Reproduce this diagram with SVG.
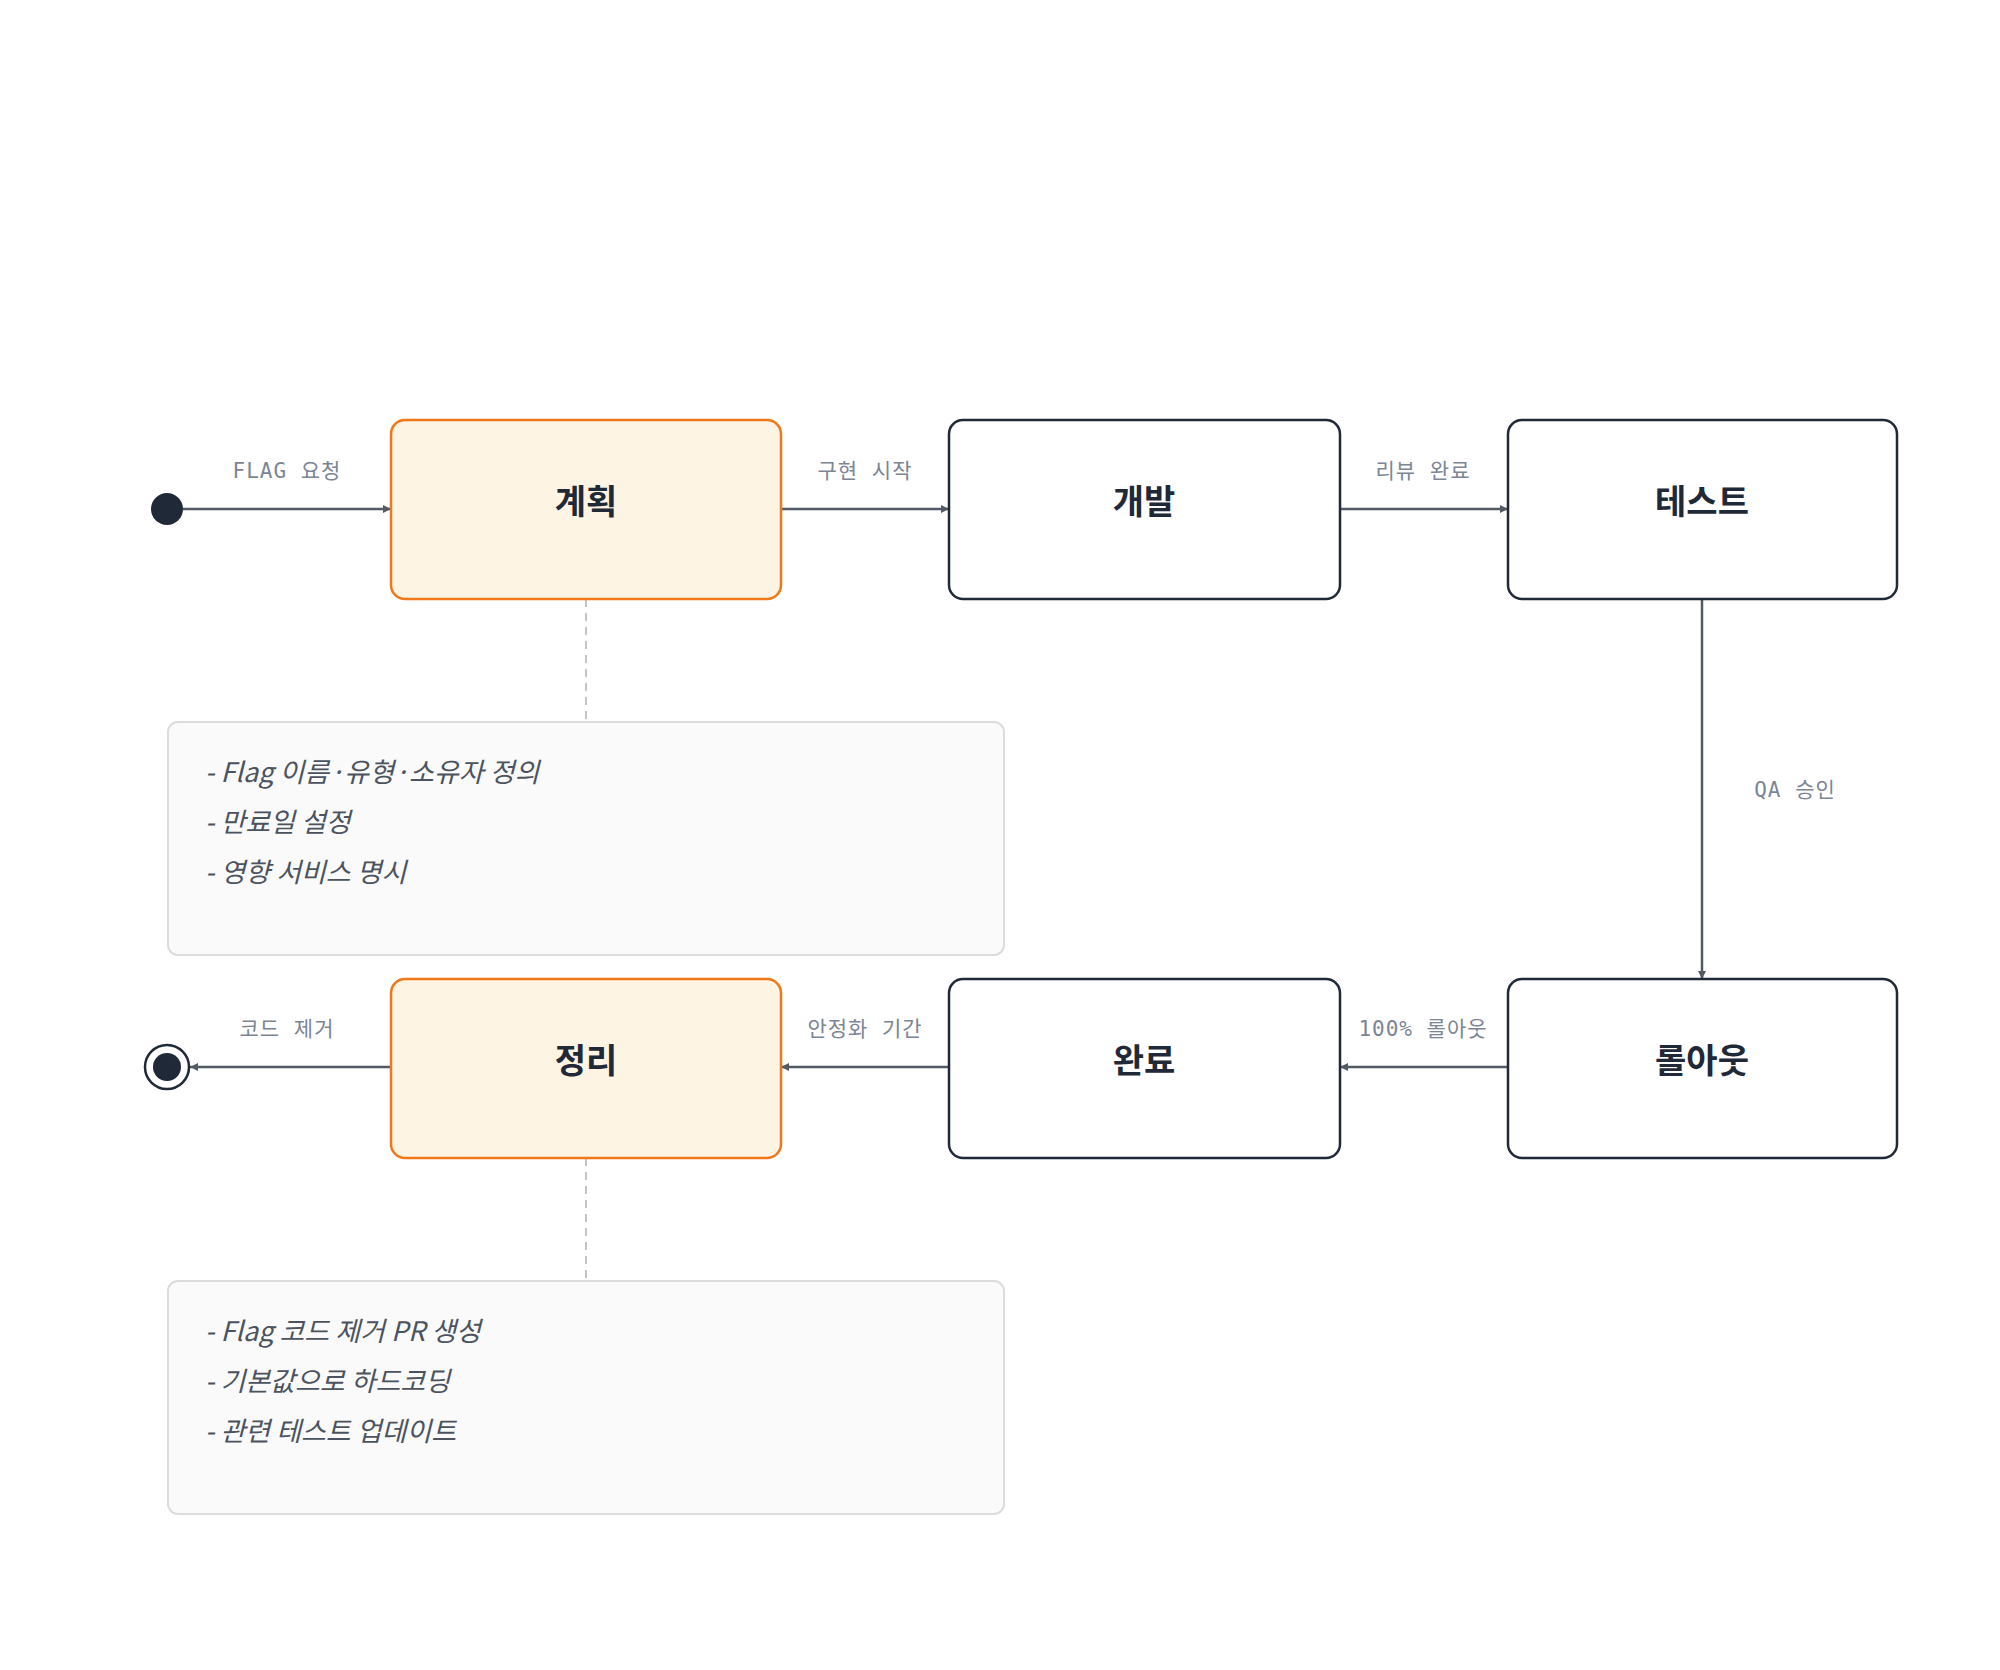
<svg xmlns="http://www.w3.org/2000/svg" width="2000" height="1670" viewBox="0 0 2000 1670">
<style>
.node rect{fill:#ffffff;stroke:#1f2937;stroke-width:2.5}
.hl rect{fill:#fef4e4;stroke:#f07818;stroke-width:2.5}
.nl{font-family:"Noto Sans CJK KR","Noto Sans",sans-serif;font-weight:bold;font-size:34px;fill:#1f2937;text-anchor:middle}
.el{font-family:"DejaVu Sans Mono","Noto Sans CJK KR",monospace;font-size:21px;fill:#7b8594;text-anchor:middle;letter-spacing:1px}
.edge{stroke:#525a66;stroke-width:2.5;fill:none}
.note rect{fill:#fafafa;stroke:#dcdcdc;stroke-width:2}
.nt{font-family:"Noto Sans CJK KR","Noto Sans",sans-serif;font-style:italic;font-size:27px;fill:#4b5360}
.dash{stroke:#c4c4c4;stroke-width:2;stroke-dasharray:8 6}
</style>
<defs>
<marker id="ah" viewBox="0 0 10 10" refX="10" refY="5" markerWidth="8" markerHeight="8" markerUnits="userSpaceOnUse" orient="auto-start-reverse">
<path d="M0,0 L10,5 L0,10 z" fill="#525a66"/>
</marker>
</defs>
<rect width="2000" height="1670" fill="#ffffff"/>
<g id="connectors">
<line class="dash" x1="586" y1="599" x2="586" y2="722"/>
<line class="dash" x1="586" y1="1158" x2="586" y2="1281"/>
<path class="edge" d="M183,509 H391" marker-end="url(#ah)" style="--m:0"/>
<path class="edge" d="M781,509 H949" marker-end="url(#ah)"/>
<path class="edge" d="M1340,509 H1508" marker-end="url(#ah)"/>
<path class="edge" d="M1702,599 V979" marker-end="url(#ah)"/>
<path class="edge" d="M1508,1067 H1340" marker-end="url(#ah)"/>
<path class="edge" d="M949,1067 H781" marker-end="url(#ah)"/>
<path class="edge" d="M391,1067 H190" marker-end="url(#ah)"/>
</g>
<g id="start"><circle cx="167" cy="509" r="16" fill="#1f2937"/></g>
<g id="end"><circle cx="167" cy="1067" r="22" fill="#fff" stroke="#1f2937" stroke-width="2.5"/><circle cx="167" cy="1067" r="14" fill="#1f2937"/></g>
<g id="plan" class="hl"><rect x="391" y="420" width="390" height="179" rx="14"/><text class="nl" x="586" y="514">계획</text></g>
<g id="dev" class="node"><rect x="949" y="420" width="391" height="179" rx="14"/><text class="nl" x="1144" y="514">개발</text></g>
<g id="test" class="node"><rect x="1508" y="420" width="389" height="179" rx="14"/><text class="nl" x="1702" y="514">테스트</text></g>
<g id="rollout" class="node"><rect x="1508" y="979" width="389" height="179" rx="14"/><text class="nl" x="1702" y="1073">롤아웃</text></g>
<g id="done" class="node"><rect x="949" y="979" width="391" height="179" rx="14"/><text class="nl" x="1144" y="1073">완료</text></g>
<g id="cleanup" class="hl"><rect x="391" y="979" width="390" height="179" rx="14"/><text class="nl" x="586" y="1073">정리</text></g>
<g id="labels">
<text class="el" x="287" y="478">FLAG 요청</text>
<text class="el" x="865" y="478">구현 시작</text>
<text class="el" x="1423" y="478">리뷰 완료</text>
<text class="el" x="1795" y="797">QA 승인</text>
<text class="el" x="287" y="1036">코드 제거</text>
<text class="el" x="865" y="1036">안정화 기간</text>
<rect x="1345" y="1014" width="156" height="30" fill="#ffffff"/>
<text class="el" x="1423" y="1036">100% 롤아웃</text>
</g>
<g id="note1" class="note"><rect x="168" y="722" width="836" height="233" rx="10"/>
<text class="nt" x="205" y="782">- Flag 이름·유형·소유자 정의</text>
<text class="nt" x="205" y="832">- 만료일 설정</text>
<text class="nt" x="205" y="882">- 영향 서비스 명시</text></g>
<g id="note2" class="note"><rect x="168" y="1281" width="836" height="233" rx="10"/>
<text class="nt" x="205" y="1341">- Flag 코드 제거 PR 생성</text>
<text class="nt" x="205" y="1391">- 기본값으로 하드코딩</text>
<text class="nt" x="205" y="1441">- 관련 테스트 업데이트</text></g>
</svg>
